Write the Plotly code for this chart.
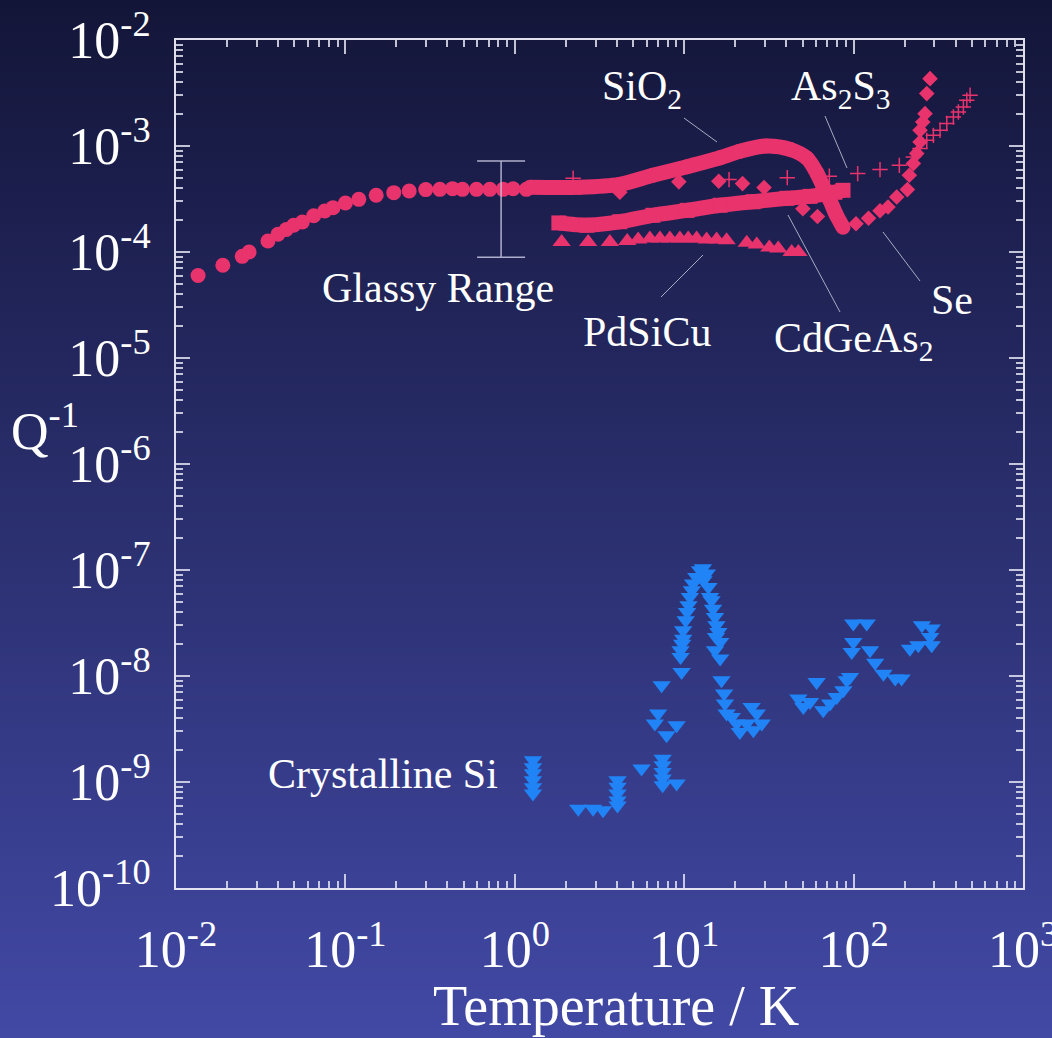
import plotly.graph_objects as go
import numpy as np

# ---------------- data ----------------
sio2_low_T = [0.0135, 0.0189, 0.0246, 0.0270, 0.0349, 0.0400, 0.0448, 0.0495, 0.0557, 0.0650,
              0.0755, 0.0845, 0.100, 0.120, 0.152, 0.193, 0.238, 0.298, 0.361, 0.429,
              0.491, 0.594, 0.712, 0.853, 0.977, 1.17]
sio2_low_Q = [6.0e-5, 7.5e-5, 9.1e-5, 1.0e-4, 1.27e-4, 1.47e-4, 1.63e-4, 1.79e-4, 1.92e-4, 2.20e-4,
              2.44e-4, 2.62e-4, 2.90e-4, 3.14e-4, 3.43e-4, 3.63e-4, 3.76e-4, 3.88e-4, 3.9e-4, 3.96e-4,
              3.9e-4, 3.9e-4, 3.9e-4, 3.9e-4, 3.95e-4, 3.9e-4]

sio2_high_T = [1.23, 2.42, 4.17, 6.53, 10.4, 16.3, 21.3, 30.4, 42.1, 53.1, 60.8, 66.0, 72.5, 78.7, 86.6]
sio2_high_Q = [4.08e-4, 4.08e-4, 4.35e-4, 5.29e-4, 6.37e-4, 7.74e-4, 8.91e-4, 1.0e-3, 9.31e-4,
               7.66e-4, 5.53e-4, 4.17e-4, 3.07e-4, 2.27e-4, 1.71e-4]

cdgeas2_T = [1.82, 2.66, 4.17, 6.53, 10.4, 16.3, 25.5, 40.4, 55.3, 77.6, 86.6]
cdgeas2_Q = [1.88e-4, 1.79e-4, 1.93e-4, 2.22e-4, 2.47e-4, 2.76e-4, 2.98e-4, 3.21e-4, 3.35e-4, 3.66e-4, 3.82e-4]

pdsicu_T = [1.89, 2.71, 3.64, 4.61, 5.35, 6.27, 7.19, 8.23, 9.43, 10.56,
            11.84, 13.56, 15.54, 17.80, 23.4, 26.8, 31.8, 35.9, 43.1, 47.2]
pdsicu_Q = [1.24e-4, 1.24e-4, 1.24e-4, 1.27e-4, 1.31e-4, 1.34e-4, 1.34e-4, 1.34e-4, 1.34e-4, 1.34e-4,
            1.34e-4, 1.31e-4, 1.31e-4, 1.29e-4, 1.22e-4, 1.18e-4, 1.10e-4, 1.08e-4, 1.0e-4, 1.0e-4]

se_T = [4.17, 9.30, 16.0, 22.1, 29.6, 50.2, 61.2, 103.3, 122.5, 143.2, 159.7, 179.7, 207.7,
        213.3, 225.3, 235.9, 246.7, 246.7, 256.0, 264.1, 270.3, 282.7]
se_Q = [3.66e-4, 4.59e-4, 4.65e-4, 4.42e-4, 4.05e-4, 2.56e-4, 2.16e-4, 1.85e-4, 2.08e-4, 2.45e-4,
        2.66e-4, 3.30e-4, 3.88e-4, 5.29e-4, 6.82e-4, 8.48e-4, 1.09e-3, 1.41e-3, 1.68e-3, 2.02e-3,
        3.12e-3, 4.32e-3]

as2s3_T = [2.21, 18.4, 40.6, 71.9, 105.7, 143.2, 186.2, 225.3, 246.7, 270.3, 295.7, 323.9,
           354.8, 388.2, 415.5, 444.6, 465.7, 487.1]
as2s3_Q = [4.96e-4, 4.82e-4, 5.03e-4, 5.18e-4, 5.49e-4, 5.99e-4, 6.57e-4, 7.87e-4, 9.45e-4, 1.13e-3,
           1.26e-3, 1.41e-3, 1.63e-3, 1.88e-3, 2.09e-3, 2.33e-3, 2.70e-3, 3.01e-3]

si_T = [1.28, 1.28, 1.28, 1.28, 1.28, 1.28,
        2.37, 2.90, 3.32,
        4.04, 4.04, 4.04, 4.04, 4.04,
        5.60, 7.36, 7.02, 6.71, 7.87, 9.02,
        7.46, 7.46, 7.46, 7.46, 7.46, 9.02,
        9.65, 9.52, 9.52, 9.73, 9.86, 9.86, 10.2, 10.4, 10.6, 10.8, 11.1, 11.3, 11.8, 12.4,
        12.9, 13.6, 13.0, 13.9, 14.2,
        14.5, 14.8, 15.2, 15.5, 15.9, 15.4, 16.3, 15.2, 16.3, 16.6, 17.2, 17.4, 17.8, 19.1,
        20.4, 21.3, 23.4, 25.0, 26.8, 28.7, 25.6,
        47.2, 50.5, 55.3, 60.5, 66.2, 72.6, 79.5, 87.0, 91.1, 95.2,
        99.6, 119.5, 99.6, 97.5, 125.0, 134.0, 150.0, 176.0, 192.0, 215.0, 241.0, 253.0,
        289.0, 289.0, 283.0]
si_Q = [1.60e-9, 1.38e-9, 1.21e-9, 1.04e-9, 8.9e-10, 7.8e-10,
        5.6e-10, 5.6e-10, 5.4e-10,
        1.04e-9, 9.0e-10, 7.8e-10, 6.7e-10, 6.0e-10,
        1.34e-9, 8.17e-9, 4.42e-9, 3.56e-9, 2.76e-9, 3.43e-9,
        1.66e-9, 1.44e-9, 1.24e-9, 1.08e-9, 9.3e-10, 9.7e-10,
        1.09e-8, 1.51e-8, 1.75e-8, 2.02e-8, 2.25e-8, 2.70e-8, 3.35e-8, 4.02e-8, 4.65e-8, 5.56e-8,
        6.43e-8, 7.44e-8, 8.59e-8, 9.94e-8,
        1.04e-7, 9.25e-8, 7.99e-8, 6.91e-8, 5.56e-8,
        5.18e-8, 4.32e-8, 3.60e-8, 3.01e-8, 2.60e-8, 2.33e-8, 2.09e-8, 1.75e-8, 1.46e-8, 9.11e-9,
        6.82e-9, 5.49e-9, 4.42e-9, 4.10e-9,
        3.56e-9, 2.96e-9, 3.56e-9, 5.10e-9, 4.42e-9, 3.56e-9, 3.07e-9,
        6.12e-9, 5.10e-9, 5.68e-9, 8.78e-9, 4.75e-9, 5.49e-9, 6.33e-9, 7.33e-9, 9.11e-9, 9.79e-9,
        3.12e-8, 3.12e-8, 2.09e-8, 1.68e-8, 1.75e-8, 1.33e-8, 1.05e-8, 9.45e-9, 9.45e-9, 1.81e-8,
        1.95e-8, 3.01e-8, 2.80e-8, 1.95e-8, 2.33e-8]

glassy_T = [0.83]
glassy_low = [8.9e-5]
glassy_high = [7.2e-4]

x_tickvals = [1e-2, 1e-1, 1e0, 1e1, 1e2, 1e3]
x_ticktext = ["10<sup>-2</sup>", "10<sup>-1</sup>", "10<sup>0</sup>", "10<sup>1</sup>",
              "10<sup>2</sup>", "10<sup>3</sup>"]
y_tickvals = [1e-10, 1e-9, 1e-8, 1e-7, 1e-6, 1e-5, 1e-4, 1e-3, 1e-2]
y_ticktext = ["10<sup>-10</sup>", "10<sup>-9</sup>", "10<sup>-8</sup>", "10<sup>-7</sup>",
              "10<sup>-6</sup>", "10<sup>-5</sup>", "10<sup>-4</sup>", "10<sup>-3</sup>",
              "10<sup>-2</sup>"]

# ---------------- styling ----------------
W, H = 1052, 1038
ML, MR, MT, MB = 176, 29, 40, 150
PINK = "#e8336c"
BLUE = "#2084f6"
FONT = "Liberation Serif"
TOP_RGB = np.array([19, 21, 56])
BOT_RGB = np.array([66, 73, 165])


def px2paper(px, py):
    return (px - ML) / (W - ML - MR), (H - MB - py) / (H - MT - MB)


fig = go.Figure()

fig.add_trace(go.Scatter(x=si_T, y=si_Q, mode="markers", name="Crystalline Si",
                         marker=dict(symbol="triangle-down", size=16, color=BLUE,
                                     line=dict(width=0))))
fig.add_trace(go.Scatter(x=pdsicu_T, y=pdsicu_Q, mode="markers", name="PdSiCu",
                         marker=dict(symbol="triangle-up", size=16, color=PINK,
                                     line=dict(width=0))))
fig.add_trace(go.Scatter(x=cdgeas2_T, y=cdgeas2_Q, mode="lines+markers", name="CdGeAs2",
                         line=dict(color=PINK, width=15, shape="spline", smoothing=0.6),
                         marker=dict(symbol="square", size=15, color=PINK, line=dict(width=0))))
fig.add_trace(go.Scatter(x=sio2_low_T, y=sio2_low_Q, mode="markers", name="SiO2",
                         marker=dict(symbol="circle", size=15, color=PINK, line=dict(width=0))))
fig.add_trace(go.Scatter(x=sio2_high_T, y=sio2_high_Q, mode="lines+markers", name="SiO2 (high T)",
                         line=dict(color=PINK, width=15, shape="spline", smoothing=0.8),
                         marker=dict(symbol="circle", size=15, color=PINK, line=dict(width=0))))
fig.add_trace(go.Scatter(x=se_T, y=se_Q, mode="markers", name="Se",
                         marker=dict(symbol="diamond", size=12, color=PINK, line=dict(width=0))))
fig.add_trace(go.Scatter(x=as2s3_T, y=as2s3_Q, mode="markers", name="As2S3",
                         marker=dict(symbol="cross-thin", size=11, color=PINK,
                                     line=dict(width=1.5, color=PINK))))

glassy_mid = [np.sqrt(a * b) for a, b in zip(glassy_low, glassy_high)]
fig.add_trace(go.Scatter(
    x=glassy_T, y=glassy_mid, mode="markers", name="Glassy Range",
    marker=dict(size=1, opacity=0),
    error_y=dict(type="data", symmetric=False,
                 array=[h - m for h, m in zip(glassy_high, glassy_mid)],
                 arrayminus=[m - l for m, l in zip(glassy_mid, glassy_low)],
                 color="rgba(200,200,225,0.85)", thickness=1.5, width=24)))

# ---------------- background gradient ----------------
shapes = []
n_strips = 130
for i in range(n_strips):
    py0 = H * i / n_strips - (1.0 if i == 0 else 0.0)
    py1 = H * (i + 1) / n_strips + 1.0
    t = (i + 0.5) / n_strips
    c = TOP_RGB + (BOT_RGB - TOP_RGB) * t
    _, y0 = px2paper(0, py0)
    _, y1 = px2paper(0, py1)
    shapes.append(dict(type="rect", xref="paper", yref="paper",
                       x0=-0.3, x1=1.1, y0=y1, y1=y0, layer="below",
                       fillcolor="rgb(%d,%d,%d)" % tuple(np.round(c).astype(int)),
                       line=dict(width=0)))

# leader lines (pixel positions of the callouts)
leaders = [((684, 118), (717, 142)),   # SiO2
           ((825, 116), (847, 168)),   # As2S3
           ((703, 255), (661, 297)),   # PdSiCu
           ((788, 215), (840, 312)),   # CdGeAs2
           ((883, 232), (920, 281))]   # Se
for (a, b) in leaders:
    x0, y0 = px2paper(*a)
    x1, y1 = px2paper(*b)
    shapes.append(dict(type="line", xref="paper", yref="paper", x0=x0, y0=y0, x1=x1, y1=y1,
                       line=dict(color="rgba(205,205,225,0.8)", width=1)))

# ---------------- text labels ----------------
labels = [("SiO<sub>2</sub>", 642, 89),
          ("As<sub>2</sub>S<sub>3</sub>", 840, 89),
          ("Glassy Range", 438, 288),
          ("PdSiCu", 647, 332),
          ("CdGeAs<sub>2</sub>", 853, 341),
          ("Se", 952, 300),
          ("Crystalline Si", 383, 774)]
annotations = []
for txt, px, py in labels:
    xp, yp = px2paper(px, py)
    annotations.append(dict(text=txt, x=xp, y=yp, xref="paper", yref="paper",
                            xanchor="center", yanchor="middle", showarrow=False,
                            font=dict(family=FONT, size=42, color="white")))
xp, yp = px2paper(45, 428)
annotations.append(dict(text="Q<sup>-1</sup>", x=xp, y=yp, xref="paper", yref="paper",
                        xanchor="center", yanchor="middle", showarrow=False,
                        font=dict(family=FONT, size=52, color="white")))
xp, yp = px2paper(616, 1006)
annotations.append(dict(text="Temperature / K", x=xp, y=yp, xref="paper", yref="paper",
                        xanchor="center", yanchor="middle", showarrow=False,
                        font=dict(family=FONT, size=56, color="white")))

minor_x = [m * 10.0 ** e for e in range(-2, 3) for m in range(2, 10)]
minor_y = [m * 10.0 ** e for e in range(-10, -2) for m in range(2, 10)]

axis_common = dict(
    type="log", showgrid=False, zeroline=False, automargin=False,
    showline=True, linecolor="rgba(235,235,245,0.95)", linewidth=2, mirror="allticks",
    ticks="inside", ticklen=14, tickwidth=1.5, tickcolor="rgba(225,225,240,0.85)",
    tickfont=dict(family=FONT, size=52, color="white"),
    tickmode="array", ticklabeloverflow="allow",
)

fig.update_layout(
    width=W, height=H,
    margin=dict(l=ML, r=MR, t=MT, b=MB, pad=0, autoexpand=False),
    paper_bgcolor="rgb(42,47,110)",
    plot_bgcolor="rgba(0,0,0,0)",
    font=dict(family=FONT, color="white"),
    showlegend=False,
    shapes=shapes,
    annotations=annotations,
    xaxis=dict(axis_common, range=[-2, 3], tickvals=x_tickvals, ticktext=x_ticktext,
               ticklabelstandoff=15,
               minor=dict(tickmode="array", tickvals=minor_x, ticks="inside", ticklen=7,
                          tickwidth=1.5, tickcolor="rgba(225,225,240,0.85)", showgrid=False)),
    yaxis=dict(axis_common, range=[-10, -2], tickvals=y_tickvals, ticktext=y_ticktext,
               ticklabelstandoff=13,
               minor=dict(tickmode="array", tickvals=minor_y, ticks="inside", ticklen=7,
                          tickwidth=1.5, tickcolor="rgba(225,225,240,0.85)", showgrid=False)),
)

fig.write_html("out.html",
               config={"displayModeBar": False},
               post_script="document.body.style.margin='0px';"
                           "document.body.style.overflow='hidden';"
                           "document.body.style.background='rgb(19,21,56)';")
